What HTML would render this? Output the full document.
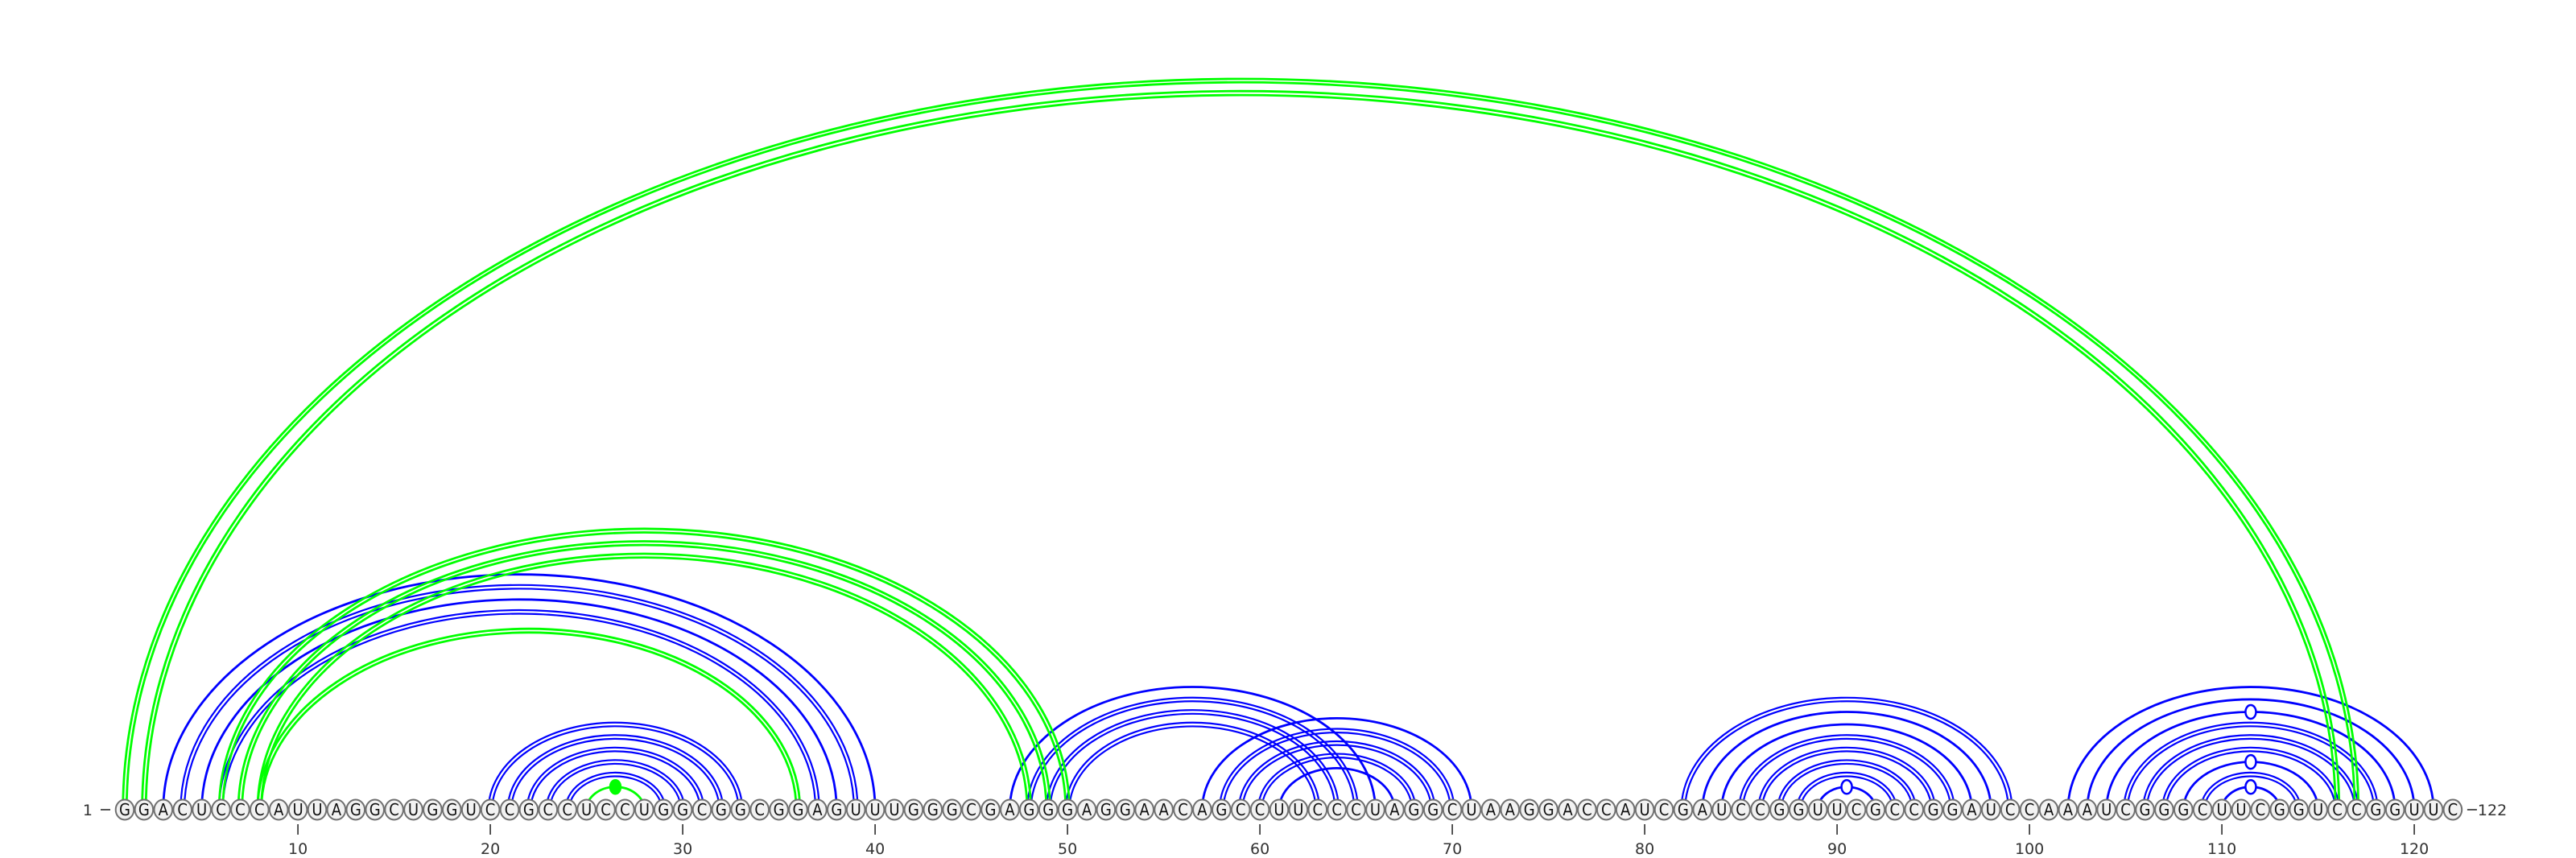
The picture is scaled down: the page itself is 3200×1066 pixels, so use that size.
<!DOCTYPE html>
<html><head><meta charset="utf-8"><style>
html,body{margin:0;padding:0;background:#fff;}
svg{display:block;}
</style></head><body>
<svg id="chart" width="3200" height="1066" viewBox="0 0 3200 1066" xmlns="http://www.w3.org/2000/svg">
<g id="arcs"></g>
<g id="nucs"></g>
<g id="axis"></g>
</svg>
<script>
const sequence = "GGACUCCCAUUAGGCUGGUCCGCCUCCUGGCGGCGGAGUUUGGGCGAGGGAGGAACAGCCUUCCCUAGGCUAAGGACCAUCGAUCCGGUUCGCCGGAUCCAAAUCGGGCUUCGGUCCGGUUC";
// pairs: [i, j] 1-based
const bluePairs = [[3,40],[4,39],[5,38],[6,37],[20,33],[21,32],[22,31],[23,30],[24,29],
 [47,66],[48,65],[49,64],[50,63],[57,71],[58,70],[59,69],[60,68],[61,67],
 [82,99],[83,98],[84,97],[85,96],[86,95],[87,94],[88,93],[89,92],
 [102,121],[103,120],[104,119],[105,118],[106,117],[107,116],[108,115],[109,114],[110,113]];
const blueDouble = [0,1,0,1,1,1,1,1,1, 0,1,1,1,0,1,1,1,0, 1,0,0,1,1,1,1,0, 0,0,0,1,1,1,0,1,0];
const greenPairs = [[1,117],[2,116],[6,50],[7,49],[8,48],[8,36],[25,28]];
const greenDouble = [1,1,1,1,1,1,0];
const openMarks = [[89,92],[104,119],[108,115],[110,113]];
const filledMarks = [[25,28]];
const tickPositions = [10,20,30,40,50,60,70,80,90,100,110,120];

const NS="http://www.w3.org/2000/svg";
const X0=155, DX=23.9, BASE=1006;
const xOf = i => X0 + (i-1)*DX;
const ryOf = rx => 0.65*rx + 5;
const arcsG=document.getElementById('arcs');
function arcPath(i,j,d){
  const x1=xOf(i), x2=xOf(j), cx=(x1+x2)/2, rx=(x2-x1)/2 + d, ry=ryOf((x2-x1)/2)+d;
  return `M ${cx-rx} ${BASE} A ${rx} ${ry} 0 0 1 ${cx+rx} ${BASE}`;
}
function drawArc(p,dbl,color,name,w){
  const offs = dbl ? [-2.3,2.3] : [0];
  offs.forEach(d=>{
    const path=document.createElementNS(NS,'path');
    path.setAttribute('d',arcPath(p[0],p[1],d));
    path.setAttribute('fill','none');
    path.setAttribute('stroke',color);
    path.setAttribute('stroke-width',dbl?w:2.8);
    
    
    arcsG.appendChild(path);
  });
}
bluePairs.forEach((p,k)=>drawArc(p,blueDouble[k],'#0000ff','arc-'+p[0]+'-'+p[1],2.2));
greenPairs.forEach((p,k)=>drawArc(p,greenDouble[k],'#00ff00','pseudoknot-arc-'+p[0]+'-'+p[1],2.8));
function mark(p,filled){
  const x1=xOf(p[0]), x2=xOf(p[1]);
  const e=document.createElementNS(NS,'ellipse');
  e.setAttribute('cx',(x1+x2)/2);
  e.setAttribute('cy',BASE-ryOf((x2-x1)/2));
  e.setAttribute('rx',6.5); e.setAttribute('ry',8.5);
  e.setAttribute('fill',filled?'#00ff00':'#fff');
  e.setAttribute('stroke',filled?'#00ff00':'#0000ff');
  e.setAttribute('stroke-width',2.5);
  
  
  arcsG.appendChild(e);
}
openMarks.forEach(p=>mark(p,false));
filledMarks.forEach(p=>mark(p,true));

const nucG=document.getElementById('nucs');
for(let i=0;i<sequence.length;i++){
  const x=xOf(i+1);
  const c=document.createElementNS(NS,'ellipse');
  c.setAttribute('cx',x); c.setAttribute('cy',BASE);
  c.setAttribute('rx',11.3); c.setAttribute('ry',12.5);
  c.setAttribute('fill','#f2f2f2'); c.setAttribute('stroke','#707070'); c.setAttribute('stroke-width',2);
  
  
  nucG.appendChild(c);
  const t=document.createElementNS(NS,'text');
  t.setAttribute('x',x); t.setAttribute('y',BASE+7);
  t.setAttribute('text-anchor','middle');
  t.setAttribute('font-family','"DejaVu Sans Condensed","DejaVu Sans","Liberation Sans",sans-serif');
  t.setAttribute('font-size','20'); t.setAttribute('fill','#111');
  t.textContent=sequence[i];
  
  
  nucG.appendChild(t);
}
const axG=document.getElementById('axis');
function txt(x,y,s,anchor,name){
  const t=document.createElementNS(NS,'text');
  t.setAttribute('x',x); t.setAttribute('y',y); t.setAttribute('text-anchor',anchor);
  t.setAttribute('font-family','"DejaVu Sans","Liberation Sans",sans-serif');
  t.setAttribute('font-size','19'); t.setAttribute('fill','#333');
  t.textContent=s;
  
  
  axG.appendChild(t);
}
txt(115,BASE+7,'1','end','start-label');
function line(x1,y1,x2,y2,name){
  const l=document.createElementNS(NS,'line');
  l.setAttribute('x1',x1);l.setAttribute('y1',y1);l.setAttribute('x2',x2);l.setAttribute('y2',y2);
  l.setAttribute('stroke','#444');l.setAttribute('stroke-width',1.8);
  
  
  axG.appendChild(l);
}
line(125,BASE,137,BASE,'start-dash');
const xe=xOf(sequence.length);
line(xe+18,BASE,xe+30,BASE,'end-dash');
txt(xe+31,BASE+7,String(sequence.length),'start','end-label');
tickPositions.forEach(p=>{
  line(xOf(p),1024,xOf(p),1037,'tick-'+p);
  txt(xOf(p),1061,String(p),'middle','tick-label-'+p);
});
</script>
</body></html>
